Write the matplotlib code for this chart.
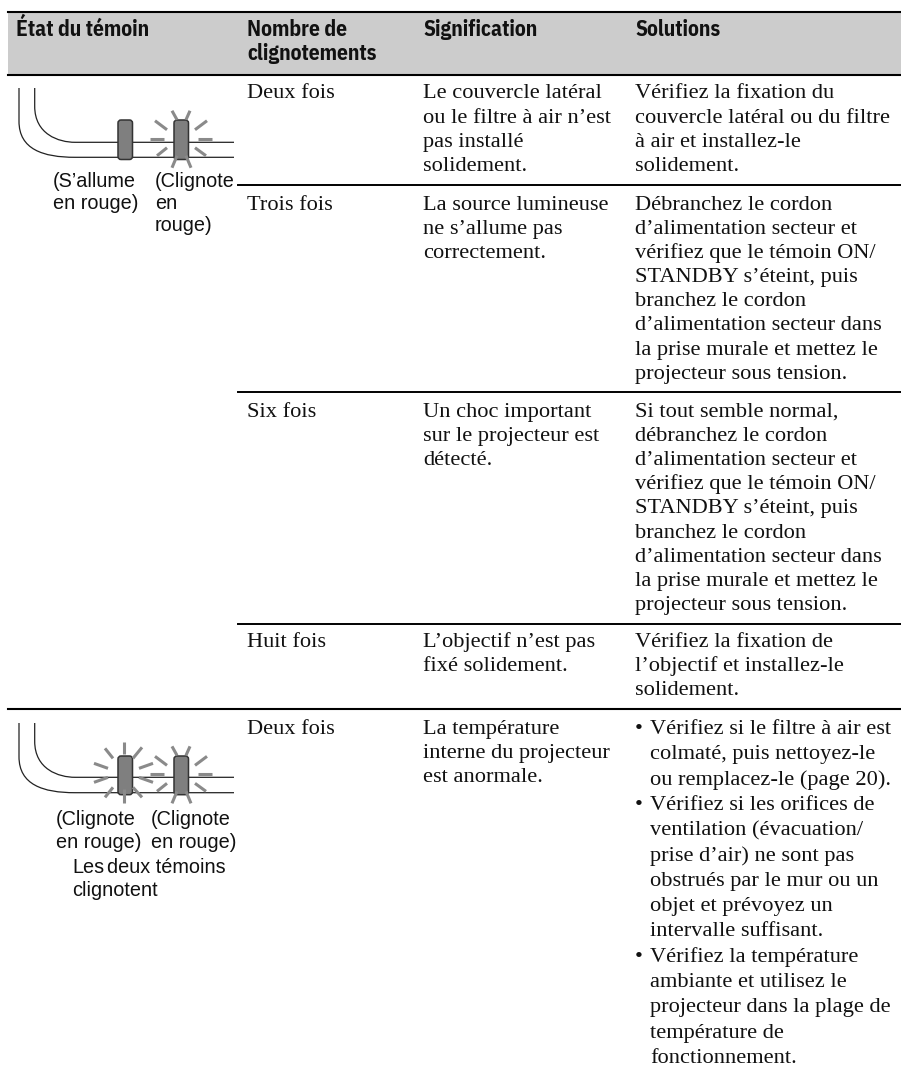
import matplotlib
matplotlib.use("Agg")
import matplotlib.pyplot as plt
from matplotlib.path import Path
from matplotlib.patches import PathPatch, Rectangle, FancyBboxPatch

W, H = 901, 1071

# table text
headers = ["État du témoin", "Nombre de\nclignotements", "Signification", "Solutions"]
counts = ["Deux fois", "Trois fois", "Six fois", "Huit fois", "Deux fois"]
meanings = [
    ["Le couvercle latéral", "ou le filtre à air n’est", "pas installé", "solidement."],
    ["La source lumineuse", "ne s’allume pas", "correctement."],
    ["Un choc important", "sur le projecteur est", "détecté."],
    ["L’objectif n’est pas", "fixé solidement."],
    ["La température", "interne du projecteur", "est anormale."],
]
solutions = [
    ["Vérifiez la fixation du", "couvercle latéral ou du filtre", "à air et installez-le", "solidement."],
    ["Débranchez le cordon", "d’alimentation secteur et", "vérifiez que le témoin ON/",
     "STANDBY s’éteint, puis", "branchez le cordon", "d’alimentation secteur dans",
     "la prise murale et mettez le", "projecteur sous tension."],
    ["Si tout semble normal,", "débranchez le cordon", "d’alimentation secteur et",
     "vérifiez que le témoin ON/", "STANDBY s’éteint, puis", "branchez le cordon",
     "d’alimentation secteur dans", "la prise murale et mettez le", "projecteur sous tension."],
    ["Vérifiez la fixation de", "l’objectif et installez-le", "solidement."],
]
bullets = [
    ["Vérifiez si le filtre à air est", "colmaté, puis nettoyez-le", "ou remplacez-le (page 20)."],
    ["Vérifiez si les orifices de", "ventilation (évacuation/", "prise d’air) ne sont pas",
     "obstrués par le mur ou un", "objet et prévoyez un", "intervalle suffisant."],
    ["Vérifiez la température", "ambiante et utilisez le", "projecteur dans la plage de",
     "température de", "fonctionnement."],
]

# layout in pixels
row_lines = [184.5, 391.5, 623.5]
row_base = [98.5, 210, 417, 647, 734]
col_x = [247, 423, 635]
bullet_x = 650
line_h = 24.1
bullet_h = 25.3

# rays around a blinking led, as offsets from the led centre
rays_a = [(-9, -28, -4, -19), (9, -28, 5, -19), (-26, -18, -14, -9), (26, -18, 14, -9),
          (-31, 0, -17, 0), (17, 0, 31, 0), (-24, 17, -14, 9), (25, 17, 14, 9),
          (-4, 17, -9, 29), (5, 17, 10, 29)]
rays_b = [(-1, -32, -1, -20), (-1, 15, -1, 29), (-20, -26, -12, -16), (17, -27, 8, -16),
          (-31, -11, -17, -6), (28, -11, 14, -6), (-31, 8, -17, 3), (28, 8, 14, 3),
          (-20, 23, -12, 13), (17, 23, 8, 13)]

serif = dict(family="Liberation Serif", fontsize=16.15, color="#111111", va="baseline")
sans = dict(family="Liberation Sans", fontsize=14.3, color="#111111", va="baseline")
head = dict(family=["IBM Plex Sans Condensed", "Asap Condensed", "Liberation Sans"], fontsize=15.5, color="#111111",
            va="baseline", fontweight="bold")

fig = plt.figure(figsize=(W / 100, H / 100), dpi=100)
ax = fig.add_axes([0, 0, 1, 1])
ax.set_xlim(0, W)
ax.set_ylim(H, 0)
ax.axis("off")


def cable(top, inner_y, outer_y):
    for x0, y in [(19, outer_y), (34.7, inner_y)]:
        verts = [(x0, top), (x0, y - 36), (x0, y - 8), (x0 + 24, y), (75, y), (234, y)]
        codes = [Path.MOVETO, Path.LINETO, Path.CURVE4, Path.CURVE4, Path.CURVE4, Path.LINETO]
        ax.add_patch(PathPatch(Path(verts, codes), fc="none", ec="#222222", lw=0.9))


def led(x, y0, y1, rays=None):
    ax.add_patch(FancyBboxPatch((x + 2, y0 + 2), 10.5, y1 - y0 - 2, boxstyle="round,pad=2,rounding_size=3",
                                fc="#7f7f7f", ec="#333333", lw=1.1, zorder=3))
    if rays:
        cx, cy = x + 7, (y0 + y1) / 2
        for a, b, c, d in rays:
            ax.plot([cx + a, cx + c], [cy + b, cy + d], color="#8a8a8a", lw=2.2, solid_capstyle="butt", zorder=4)


# header band
ax.add_patch(Rectangle((8, 12), W - 8, 63, fc="#cccccc", ec="none"))
ax.plot([8, W], [12, 12], color="black", lw=1.5)
ax.plot([8, W], [74.7, 74.7], color="black", lw=1.5)
ax.text(16, 36, headers[0], **head)
for x, txt in zip(col_x, headers[1:]):
    for i, s in enumerate(txt.split("\n")):
        ax.text(x, 36 + i * 24, s, **head)

for y in row_lines:
    ax.plot([238, W], [y, y], color="black", lw=1.4)
ax.plot([8, W], [709, 709], color="black", lw=1.5)

# cells
for c, y in zip(counts, row_base):
    ax.text(col_x[0], y, c, **serif)
for lines, y in zip(meanings, row_base):
    for i, s in enumerate(lines):
        ax.text(col_x[1], y + i * line_h, s, **serif)
for lines, y in zip(solutions, row_base):
    for i, s in enumerate(lines):
        ax.text(col_x[2], y + i * line_h, s, **serif)
n = 0
for lines in bullets:
    ax.text(col_x[2], row_base[4] + n * bullet_h, "•", **serif)
    for s in lines:
        ax.text(bullet_x, row_base[4] + n * bullet_h, s, **serif)
        n += 1

# upper drawing
cable(88, 142.3, 157.3)
led(118, 120, 157.5)
led(174, 120, 157.5, rays_a)
for x, y, s in [(53, 187, "(S’allume"), (53, 209, "en rouge)"), (155, 187, "(Clignote"),
                (155, 209, "en"), (155, 231, "rouge)")]:
    ax.text(x, y, s, **sans)

# lower drawing
cable(723, 777.3, 792.7)
led(118, 756, 792.7, rays_b)
led(174, 756, 792.7, rays_a)
for x, y, s in [(56, 825, "(Clignote"), (151, 825, "(Clignote"), (56, 848, "en rouge)"),
                (151, 848, "en rouge)"), (72, 873, "Les"), (107, 873, "deux témoins"), (72, 896, "clignotent")]:
    ax.text(x, y, s, **sans)

fig.savefig("out.png", dpi=100)
